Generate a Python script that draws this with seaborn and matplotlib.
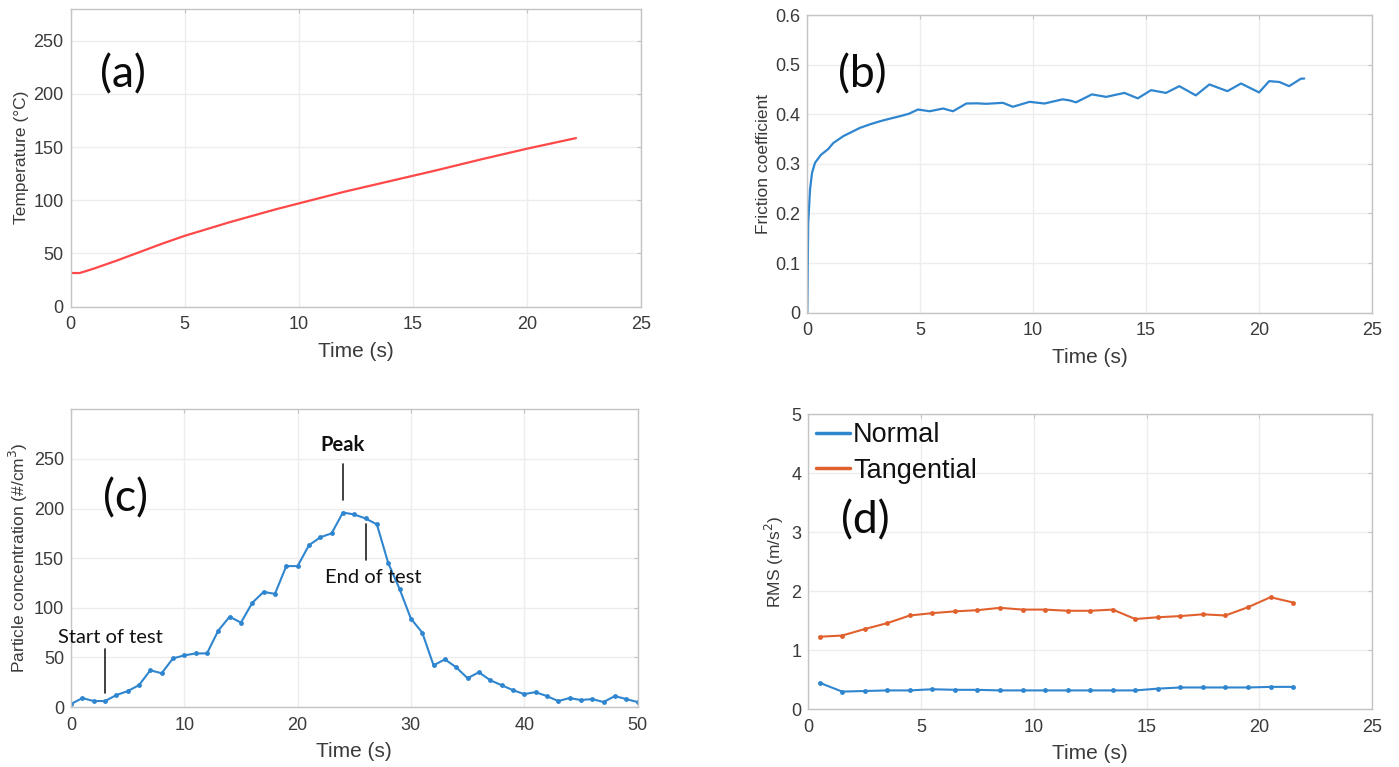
import numpy as np
import pandas as pd
import matplotlib
matplotlib.use("Agg")
import matplotlib.pyplot as plt
import seaborn as sns

# (a) disc temperature
temp_t = [0, 0.4, 1, 2, 3, 4, 5, 6, 7, 8, 9, 10, 12, 14, 16, 18, 20, 22.15]
temp_c = [31.5, 31.5, 35.5, 43, 51, 59, 66.5, 73, 79.5, 85.5, 91.5, 97, 108, 118, 128, 138.5, 148.5, 158.5]

# (b) friction coefficient
fric_t = [0, 0.04, 0.12, 0.21, 0.34, 0.6, 0.93, 1.15, 1.6, 2.33, 2.8, 3.23, 3.65, 4.1, 4.5,
          4.9, 5.42, 6.01, 6.45, 7.04, 7.5, 7.92, 8.66, 9.1, 9.84, 10.5, 11.3, 11.6, 11.9,
          12.6, 13.23, 14.04, 14.63, 15.22, 15.88, 16.47, 17.2, 17.8, 18.6, 19.2, 20.0,
          20.45, 20.9, 21.33, 21.85, 22.0]
fric_mu = [0.0, 0.18, 0.248, 0.282, 0.302, 0.318, 0.33, 0.342, 0.356, 0.3725, 0.38, 0.386,
           0.391, 0.396, 0.401, 0.4095, 0.406, 0.4115, 0.406, 0.4216, 0.422, 0.421, 0.423,
           0.415, 0.425, 0.4216, 0.43, 0.428, 0.424, 0.44, 0.435, 0.443, 0.432, 0.4485,
           0.443, 0.4566, 0.438, 0.46, 0.4465, 0.462, 0.444, 0.4667, 0.465, 0.4566, 0.4715, 0.472]

# (c) particle number concentration, one sample per second
pc_t = list(range(0, 51))
pc_n = [3, 9, 6, 6, 12, 16, 22, 37, 34, 49, 52, 54, 54, 77, 91, 85, 105, 116, 114, 142,
        142, 163, 171, 175, 196, 194, 190, 184, 145, 119, 89, 75, 42, 48, 40, 29, 35,
        27, 22, 17, 13, 15, 11, 6, 9, 7, 8, 5, 11, 8, 5]

# (d) RMS acceleration
rms_t = [0.5, 1.5, 2.5, 3.5, 4.5, 5.5, 6.5, 7.5, 8.5, 9.5, 10.5, 11.5, 12.5, 13.5, 14.5,
         15.5, 16.5, 17.5, 18.5, 19.5, 20.5, 21.5]
rms_normal = [0.45, 0.30, 0.31, 0.32, 0.32, 0.34, 0.33, 0.33, 0.32, 0.32, 0.32, 0.32, 0.32,
              0.32, 0.32, 0.35, 0.37, 0.37, 0.37, 0.37, 0.38, 0.38]
rms_tangential = [1.23, 1.25, 1.36, 1.46, 1.59, 1.63, 1.66, 1.68, 1.72, 1.69, 1.69, 1.67,
                  1.67, 1.69, 1.53, 1.56, 1.58, 1.61, 1.59, 1.73, 1.90, 1.81]
rms_labels = ["Normal", "Tangential"]

sns.set_theme(style="whitegrid")
plt.rcParams.update({
    "font.family": ["Liberation Sans", "DejaVu Sans"],
    "axes.edgecolor": "#C4C4C4",
    "axes.linewidth": 1.0,
    "grid.color": "#EDEDED",
    "grid.linewidth": 1.0,
    "xtick.color": "#C4C4C4",
    "ytick.color": "#C4C4C4",
    "xtick.labelcolor": "#3A3A3A",
    "ytick.labelcolor": "#3A3A3A",
    "axes.labelcolor": "#3A3A3A",
})

W, H = 1399, 767
fig = plt.figure(figsize=(W / 100, H / 100), dpi=100)
fig.patch.set_facecolor("white")


def box(left, top, right, bottom):
    return [left / W, 1 - bottom / H, (right - left) / W, (bottom - top) / H]


ax_a = fig.add_axes(box(70.5, 9, 641, 306.5))
ax_b = fig.add_axes(box(807.3, 15, 1372, 312.7))
ax_c = fig.add_axes(box(71, 409.3, 637.5, 707))
ax_d = fig.add_axes(box(808.3, 414.3, 1372, 709.3))

BLUE = "#2F86CF"
ORANGE = "#E0612D"
RED = "#FF4848"
tick_fs = 13
label_fs = 12.5
xlabel_fs = 15
panel_font = ["Lato", "DejaVu Sans"]

sns.lineplot(x=temp_t, y=temp_c, ax=ax_a, color=RED, linewidth=1.6, sort=False)
sns.lineplot(x=fric_t, y=fric_mu, ax=ax_b, color=BLUE, linewidth=1.6, sort=False)
sns.lineplot(x=pc_t, y=pc_n, ax=ax_c, color=BLUE, linewidth=1.5, marker="o",
             markersize=3.5, markeredgewidth=0, sort=False)

rms_df = pd.DataFrame({
    "t": rms_t * 2,
    "rms": rms_normal + rms_tangential,
    "axis": [rms_labels[0]] * len(rms_t) + [rms_labels[1]] * len(rms_t),
})
sns.lineplot(data=rms_df, x="t", y="rms", hue="axis", ax=ax_d,
             palette={rms_labels[0]: BLUE, rms_labels[1]: ORANGE}, linewidth=1.5,
             marker="o", markersize=3.5, markeredgewidth=0, sort=False)

ax_a.set(xlim=(0, 25), ylim=(0, 280), xticks=range(0, 26, 5), yticks=range(0, 251, 50))
ax_b.set(xlim=(0, 25), ylim=(0, 0.6), xticks=range(0, 26, 5),
         yticks=[0, 0.1, 0.2, 0.3, 0.4, 0.5, 0.6])
ax_c.set(xlim=(0, 50), ylim=(0, 300), xticks=range(0, 51, 10), yticks=range(0, 251, 50))
ax_d.set(xlim=(0, 25), ylim=(0, 5), xticks=range(0, 26, 5), yticks=range(0, 6))
ax_b.set_yticklabels(["0", "0.1", "0.2", "0.3", "0.4", "0.5", "0.6"])

ax_a.set_ylabel("Temperature (°C)", fontsize=label_fs, labelpad=3)
ax_b.set_ylabel("Friction coefficient", fontsize=label_fs, labelpad=3)
ax_c.set_ylabel("Particle concentration (#/cm$^3$)", fontsize=label_fs, labelpad=3)
ax_d.set_ylabel("RMS (m/s$^2$)", fontsize=label_fs, labelpad=4)

for ax in (ax_a, ax_b, ax_c, ax_d):
    ax.set_xlabel("Time (s)", fontsize=xlabel_fs, labelpad=6)
    ax.tick_params(axis="both", which="major", labelsize=tick_fs, direction="in",
                   length=3, width=0.8, top=True, right=True)
    ax.tick_params(axis="x", pad=7)
    ax.tick_params(axis="y", pad=5)
    for s in ax.spines.values():
        s.set_visible(True)
        s.set_color("#C4C4C4")
    ax.grid(True)
    ax.set_facecolor("white")

# panel letters
letter_kw = dict(fontsize=32, family=panel_font, ha="center", va="center", color="#0A0A0A")
ax_a.text(2.3, 218, "(a)", **letter_kw)
ax_b.text(2.42, 0.48, "(b)", **letter_kw)
ax_c.text(4.77, 210, "(c)", **letter_kw)
ax_d.text(2.51, 3.2, "(d)", **letter_kw)

# markers for the test phases
note_kw = dict(fontsize=14.5, family=panel_font, ha="center", va="center", color="#111111")
ax_c.plot([24, 24], [209, 245], color="#202020", linewidth=1.2)
ax_c.text(24, 264, "Peak", fontweight="bold", **note_kw)
ax_c.plot([26, 26], [148, 184], color="#202020", linewidth=1.2)
ax_c.text(26.65, 131, "End of test", **note_kw)
ax_c.plot([3, 3], [14, 58], color="#202020", linewidth=1.2)
ax_c.text(3.5, 70, "Start of test", clip_on=False, **note_kw)

leg = ax_d.legend(loc="upper left", frameon=False, fontsize=19.5, handlelength=1.25,
                  handletextpad=0.1, borderaxespad=0.15, labelspacing=0.35,
                  borderpad=0.15)
for line in leg.get_lines():
    line.set_linewidth(2.5)
    line.set_marker("")
for txt in leg.get_texts():
    txt.set_color("#111111")

fig.savefig("out.png", dpi=100, facecolor="white")
